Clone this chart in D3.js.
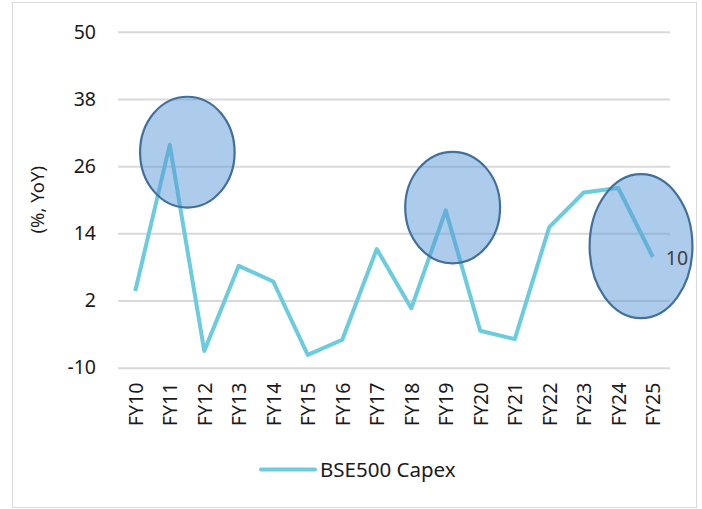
<!DOCTYPE html>
<html>
<head>
<meta charset="utf-8">
<script src="https://cdn.jsdelivr.net/npm/d3@7"></script>
<style>
  html, body { margin: 0; padding: 0; background: #fff; }
  svg { display: block; }
  text { font-family: "Noto Sans", "Open Sans", sans-serif; }
</style>
</head>
<body>
<svg id="chart" width="702" height="509"></svg>
<script>
// ---- data ----
const categories = ["FY10","FY11","FY12","FY13","FY14","FY15","FY16","FY17","FY18","FY19","FY20","FY21","FY22","FY23","FY24","FY25"];
const capexYoY = [3.7, 29.8, -7.0, 8.2, 5.4, -7.7, -5.0, 11.2, 0.6, 18.1, -3.4, -4.9, 15.1, 21.3, 22.1, 9.8];
const yTicks = [-10, 2, 14, 26, 38, 50];
const seriesName = "BSE500 Capex";
const yTitle = "(%, YoY)";
const lastLabel = "10";
// highlight ellipses in data units: centre (category index, value), radii (category steps, value units)
const highlightCx = [1.51, 9.2, 14.66];
const highlightCy = [28.5, 18.6, 11.7];
const highlightRx = [1.37, 1.375, 1.49];
const highlightRy = [9.9, 9.96, 12.86];

// ---- layout ----
const svg = d3.select("#chart");
const plot = { left: 118, right: 670, top: 31.8, bottom: 367.7 };
const lineColor = "#6CCBDC";

svg.append("rect")
  .attr("x", 12.5).attr("y", 2.5)
  .attr("width", 684).attr("height", 505)
  .attr("fill", "#fff").attr("stroke", "#d9d9d9").attr("stroke-width", 1);

const x = d3.scalePoint().domain(categories).range([plot.left, plot.right]).padding(0.5);
const y = d3.scaleLinear().domain([-10, 50]).range([plot.bottom, plot.top]);
const xIdx = i => x(categories[0]) + i * x.step();

// gridlines + y tick labels
const yAxis = d3.axisLeft(y).tickValues(yTicks).tickSize(-(plot.right - plot.left)).tickPadding(22).tickFormat(d => String(d));
const gy = svg.append("g").attr("transform", `translate(${plot.left},0)`).call(yAxis);
gy.select(".domain").remove();
gy.selectAll(".tick line").attr("stroke", "#d9d9d9").attr("stroke-width", 2);
gy.selectAll(".tick text")
  .attr("fill", "#1a1a1a").style("font-size", "19.5px");

// x axis labels (rotated)
const xAxis = d3.axisBottom(x).tickSize(0).tickPadding(0);
const gx = svg.append("g").attr("transform", `translate(0,${plot.bottom})`).call(xAxis);
gx.select(".domain").remove();
gx.selectAll(".tick text")
  .attr("fill", "#1a1a1a").style("font-size", "19.5px")
  .attr("text-anchor", "end")
  .attr("transform", "rotate(-90)")
  .attr("x", -15).attr("y", 0).attr("dy", "0.35em");

// y title
svg.append("text")
  .attr("transform", `translate(38,${(plot.top + plot.bottom) / 2}) rotate(-90)`)
  .attr("text-anchor", "middle").attr("dy", "0.35em")
  .attr("fill", "#1a1a1a").style("font-size", "18.5px")
  .text(yTitle);

// series line
const line = d3.line().x((d, i) => x(categories[i])).y(d => y(d));
svg.append("path")
  .datum(capexYoY)
  .attr("d", line)
  .attr("fill", "none").attr("stroke", lineColor)
  .attr("stroke-width", 4).attr("stroke-linejoin", "round");

// highlight ellipses
svg.append("g").selectAll("ellipse")
  .data(highlightCx.map((c, i) => ({ cx: c, cy: highlightCy[i], rx: highlightRx[i], ry: highlightRy[i] })))
  .join("ellipse")
  .attr("cx", d => xIdx(d.cx))
  .attr("cy", d => y(d.cy))
  .attr("rx", d => d.rx * x.step())
  .attr("ry", d => y(0) - y(d.ry))
  .attr("fill", "rgba(91,151,213,0.5)")
  .attr("stroke", "#41709C").attr("stroke-width", 2.2);

// last point label
const lastI = categories.length - 1;
svg.append("text")
  .attr("x", x(categories[lastI]) + 13)
  .attr("y", y(capexYoY[lastI]))
  .attr("dy", "0.4em")
  .attr("fill", "#404040").style("font-size", "19.5px")
  .text(lastLabel);

// legend
const lg = svg.append("g");
lg.append("line")
  .attr("x1", 261).attr("x2", 315).attr("y1", 469.5).attr("y2", 469.5)
  .attr("stroke", lineColor).attr("stroke-width", 4).attr("stroke-linecap", "round");
lg.append("text")
  .attr("x", 320).attr("y", 469.5).attr("dy", "0.35em")
  .attr("fill", "#1a1a1a").style("font-size", "20.5px")
  .text(seriesName);
</script>
</body>
</html>
